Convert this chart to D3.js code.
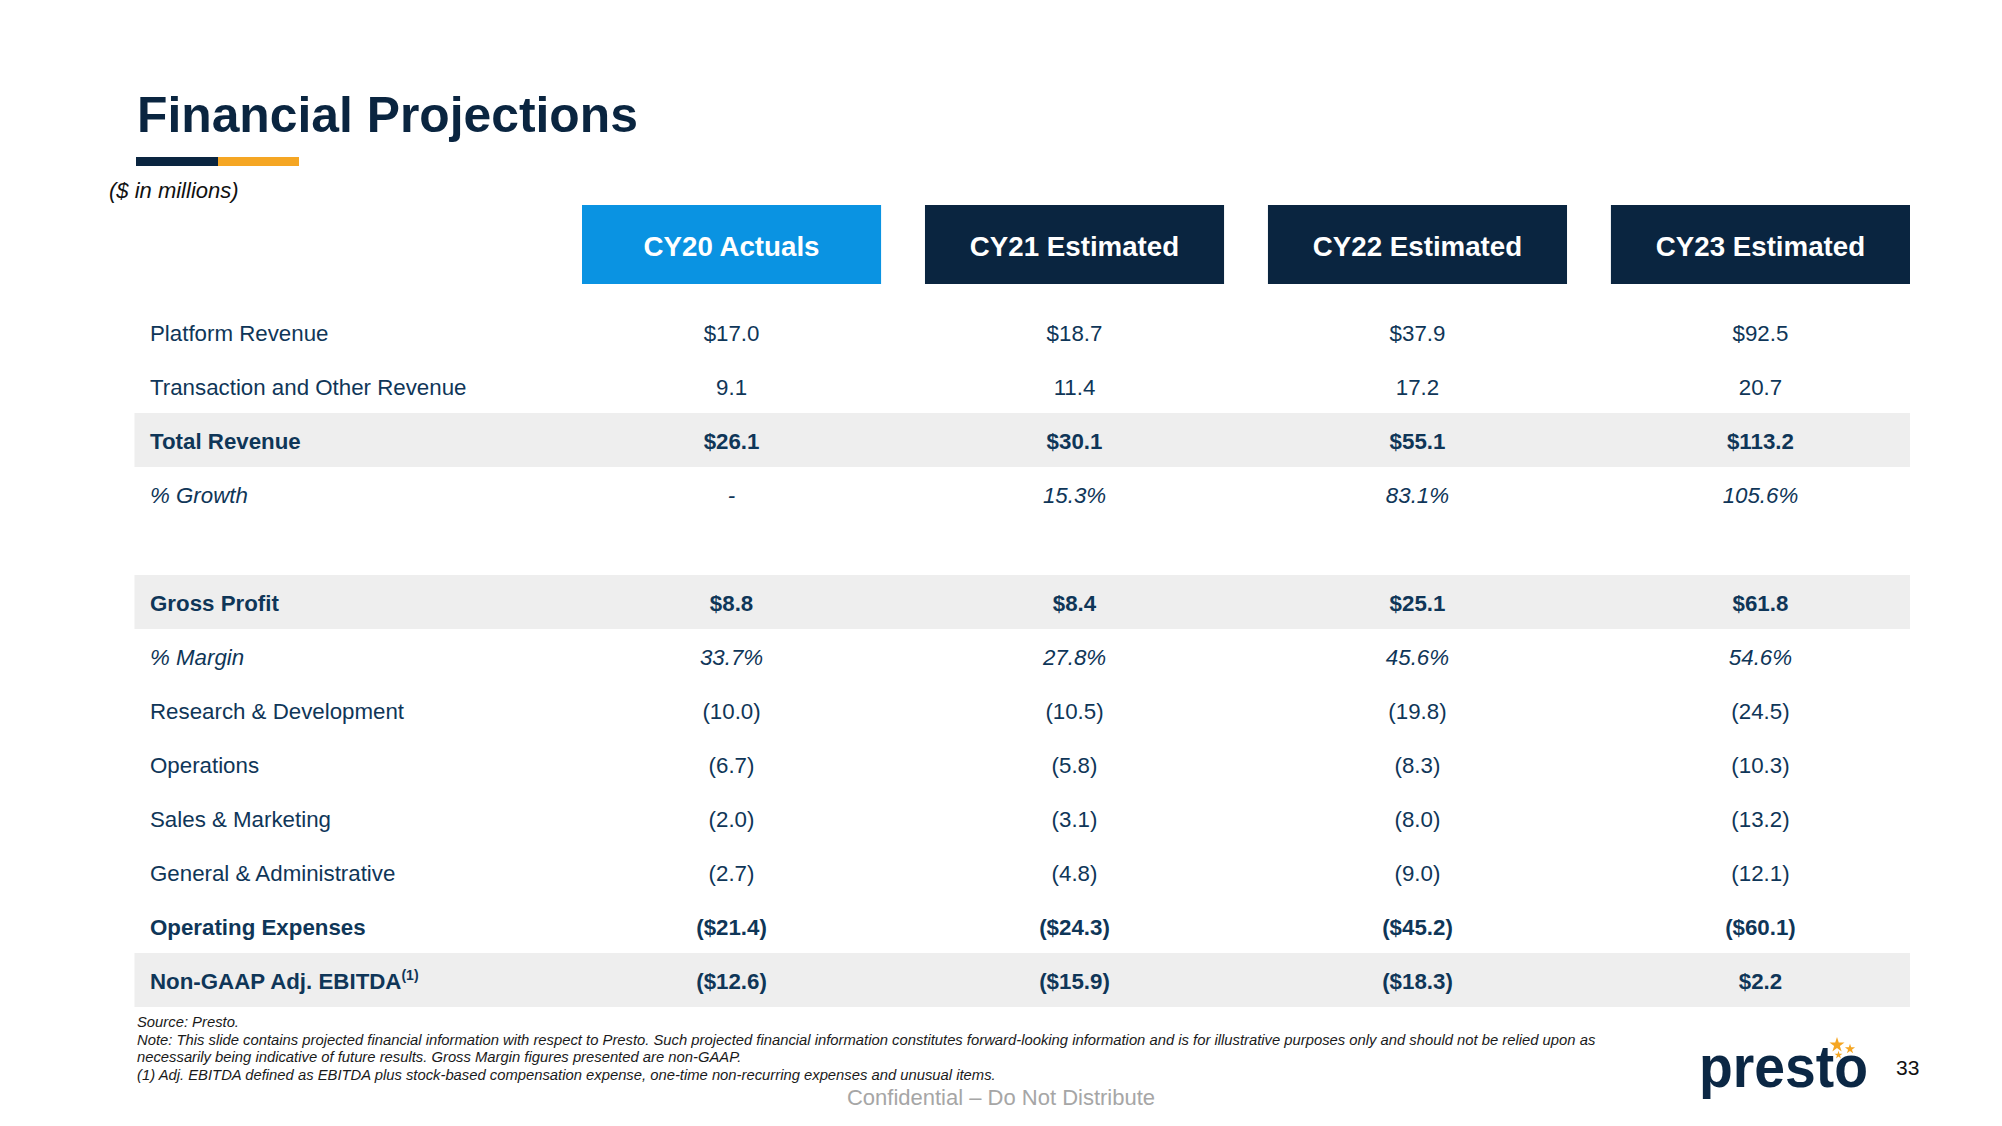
<!DOCTYPE html>
<html>
<head>
<meta charset="utf-8">
<script src="https://cdn.jsdelivr.net/npm/d3@7"></script>
<style>
  html, body { margin: 0; padding: 0; background: #ffffff; }
  svg { display: block; }
  text { font-family: "Liberation Sans", Arial, "Helvetica Neue", sans-serif; }
</style>
</head>
<body>
<svg id="chart" width="2002" height="1126"></svg>
<script>
// ---------------- DATA ----------------
const title = "Financial Projections";
const unitNote = "($ in millions)";
const columns = ["CY20 Actuals", "CY21 Estimated", "CY22 Estimated", "CY23 Estimated"];

const platformRevenue    = [17.0, 18.7, 37.9, 92.5];
const transactionRevenue = [9.1, 11.4, 17.2, 20.7];
const totalRevenue       = [26.1, 30.1, 55.1, 113.2];
const growthPct          = [null, 15.3, 83.1, 105.6];
const grossProfit        = [8.8, 8.4, 25.1, 61.8];
const marginPct          = [33.7, 27.8, 45.6, 54.6];
const researchDev        = [-10.0, -10.5, -19.8, -24.5];
const operations         = [-6.7, -5.8, -8.3, -10.3];
const salesMarketing     = [-2.0, -3.1, -8.0, -13.2];
const generalAdmin       = [-2.7, -4.8, -9.0, -12.1];
const operatingExpenses  = [-21.4, -24.3, -45.2, -60.1];
const adjEbitda          = [-12.6, -15.9, -18.3, 2.2];

const footnotes = [
  "Source: Presto.",
  "Note: This slide contains projected financial information with respect to Presto. Such projected financial information constitutes forward-looking information and is for illustrative purposes only and should not be relied upon as",
  "necessarily being indicative of future results. Gross Margin figures presented are non-GAAP.",
  "(1) Adj. EBITDA defined as EBITDA plus stock-based compensation expense, one-time non-recurring expenses and unusual items."
];
const confidential = "Confidential \u2013 Do Not Distribute";
const pageNumber = "33";
const logoText = "presto";

// row specs: id, label, values, format kind, style
const rows = [
  {id: "platform", label: "Platform Revenue", values: platformRevenue, fmt: "dollar", style: "normal"},
  {id: "transaction", label: "Transaction and Other Revenue", values: transactionRevenue, fmt: "plain", style: "normal"},
  {id: "total", label: "Total Revenue", values: totalRevenue, fmt: "dollar", style: "bold", band: true},
  {id: "growth", label: "% Growth", values: growthPct, fmt: "pct", style: "italic"},
  {id: "spacer", label: "", values: [], fmt: "plain", style: "normal"},
  {id: "gross", label: "Gross Profit", values: grossProfit, fmt: "dollar", style: "bold", band: true},
  {id: "margin", label: "% Margin", values: marginPct, fmt: "pct", style: "italic"},
  {id: "rd", label: "Research & Development", values: researchDev, fmt: "plain", style: "normal"},
  {id: "ops", label: "Operations", values: operations, fmt: "plain", style: "normal"},
  {id: "sm", label: "Sales & Marketing", values: salesMarketing, fmt: "plain", style: "normal"},
  {id: "ga", label: "General & Administrative", values: generalAdmin, fmt: "plain", style: "normal"},
  {id: "opex", label: "Operating Expenses", values: operatingExpenses, fmt: "dollar", style: "bold"},
  {id: "ebitda", label: "Non-GAAP Adj. EBITDA", sup: "(1)", values: adjEbitda, fmt: "dollar", style: "bold", band: true}
];

// ---------------- FORMAT ----------------
const f1 = d3.format(".1f");
function fmtValue(v, kind) {
  if (v === null || v === undefined) return "-";
  if (kind === "pct") return f1(v) + "%";
  const prefix = kind === "dollar" ? "$" : "";
  if (v < 0) return "(" + prefix + f1(-v) + ")";
  return prefix + f1(v);
}

// ---------------- LAYOUT ----------------
const NAVY = "#0a2540";
const TEXT = "#0f3658";
const BLUE = "#0a93e2";
const ORANGE = "#f5a623";
const BAND = "#eeeeee";

const svg = d3.select("#chart");

const x = d3.scaleBand().domain(columns).range([582, 1910]).paddingInner(0.128).paddingOuter(0);
const y = d3.scaleBand().domain(rows.map(r => r.id)).range([305, 1007]).padding(0);

const tableLeft = 134.5, tableRight = 1910, labelX = 150;

// Title
svg.append("text")
  .attr("x", 137).attr("y", 132)
  .attr("font-size", 49.8).attr("font-weight", "bold").attr("fill", NAVY)
  .text(title);

// accent bar
svg.append("rect").attr("x", 136).attr("y", 157).attr("width", 82).attr("height", 9).attr("fill", NAVY);
svg.append("rect").attr("x", 218).attr("y", 157).attr("width", 81).attr("height", 9).attr("fill", ORANGE);

// unit note
svg.append("text")
  .attr("x", 109).attr("y", 198)
  .attr("font-size", 22).attr("font-style", "italic").attr("fill", "#111")
  .text(unitNote);

// header boxes
const hfs = 27.7;
const hdr = svg.append("g").selectAll("g").data(columns).join("g");
hdr.append("rect")
  .attr("x", d => x(d)).attr("y", 205)
  .attr("width", x.bandwidth()).attr("height", 79)
  .attr("fill", (d, i) => i === 0 ? BLUE : NAVY);
hdr.append("text")
  .attr("x", d => x(d) + x.bandwidth() / 2).attr("y", 246 + 0.358 * hfs)
  .attr("text-anchor", "middle")
  .attr("font-size", hfs).attr("font-weight", "bold").attr("fill", "#ffffff")
  .text(d => d);

// highlight bands
svg.append("g").selectAll("rect").data(rows.filter(r => r.band)).join("rect")
  .attr("x", tableLeft).attr("y", r => y(r.id))
  .attr("width", tableRight - tableLeft).attr("height", y.bandwidth())
  .attr("fill", BAND);

// row labels
const fs = 22.3;
const rowG = svg.append("g").selectAll("g").data(rows.filter(r => r.id !== "spacer")).join("g")
  .attr("transform", r => `translate(0, ${y(r.id) + y.bandwidth() / 2 + 0.358 * fs + 1.5})`);

const lbl = rowG.append("text")
  .attr("x", labelX)
  .attr("font-size", fs)
  .attr("fill", TEXT)
  .attr("font-weight", r => r.style === "bold" ? "bold" : "normal")
  .attr("font-style", r => r.style === "italic" ? "italic" : "normal");
lbl.append("tspan").text(r => r.label);
lbl.filter(r => r.sup).append("tspan")
  .attr("font-size", 14).attr("dy", -9)
  .text(r => r.sup);

// values
rowG.each(function(r) {
  d3.select(this).selectAll("text.val").data(r.values.map((v, i) => ({v, col: columns[i]})))
    .join("text").attr("class", "val")
    .attr("x", d => x(d.col) + x.bandwidth() / 2)
    .attr("text-anchor", "middle")
    .attr("font-size", fs)
    .attr("fill", TEXT)
    .attr("font-weight", r.style === "bold" ? "bold" : "normal")
    .attr("font-style", r.style === "italic" ? "italic" : "normal")
    .text(d => fmtValue(d.v, r.fmt));
});

// footnotes
svg.append("g").selectAll("text").data(footnotes).join("text")
  .attr("x", 137).attr("y", (d, i) => 1027 + i * 17.5)
  .attr("font-size", 14.8).attr("font-style", "italic").attr("fill", "#1a1a1a")
  .text(d => d);

// confidential
svg.append("text")
  .attr("x", 1001).attr("y", 1105).attr("text-anchor", "middle")
  .attr("font-size", 22).attr("fill", "#a6a6a6")
  .text(confidential);

// logo
svg.append("text")
  .attr("x", 1699).attr("y", 1087)
  .attr("font-family", "'Open Sans', sans-serif")
  .attr("font-size", 60).attr("font-weight", 800).attr("fill", "#0b2744")
  .attr("textLength", 169).attr("lengthAdjust", "spacingAndGlyphs")
  .text(logoText);
const stars = [{cx: 1837, cy: 1045, s: 70}, {cx: 1850, cy: 1049, s: 32}, {cx: 1838.5, cy: 1055, s: 20}];
svg.append("g").selectAll("path").data(stars).join("path")
  .attr("transform", d => `translate(${d.cx},${d.cy})`)
  .attr("d", d => d3.symbol(d3.symbolStar, d.s)())
  .attr("fill", ORANGE);

// page number
svg.append("text")
  .attr("x", 1896).attr("y", 1075)
  .attr("font-size", 21).attr("fill", "#111")
  .text(pageNumber);
</script>
</body>
</html>
